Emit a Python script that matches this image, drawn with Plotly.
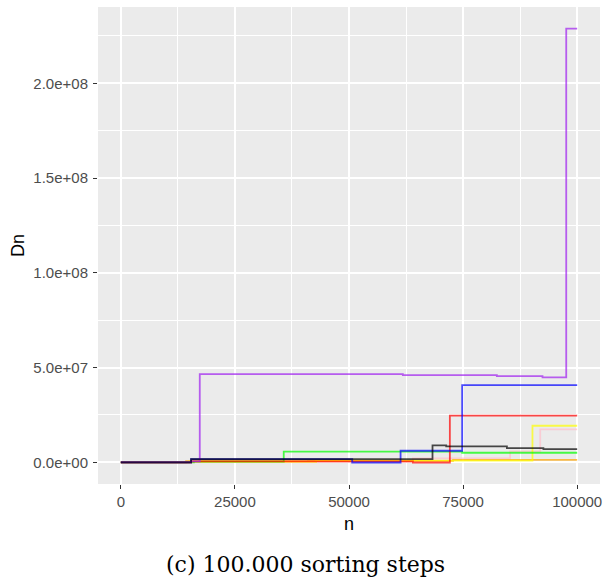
import plotly.graph_objects as go

# step series (x = n, y = Dn), drawn as horizontal-then-vertical steps
pink_x = [0, 15400, 61200, 64000, 85300, 91900, 100000]
pink_y = [0, 300000, 300000, 2100000, 5700000, 17400000, 17400000]

orange_x = [0, 14300, 41000, 72800, 100000]
orange_y = [0, 600000, 800000, 1300000, 1300000]

yellow_x = [0, 15000, 42800, 90200, 100000]
yellow_y = [0, 300000, 900000, 19300000, 19300000]

green_x = [0, 16000, 35700, 74800, 100000]
green_y = [0, 400000, 5600000, 5060000, 5060000]

red_x = [0, 15400, 64000, 72100, 100000]
red_y = [0, 500000, -100000, 24600000, 24600000]

blue_x = [0, 15400, 50700, 61300, 74800, 100000]
blue_y = [0, 1700000, -100000, 6100000, 40700000, 40700000]

purple_x = [0, 15400, 17300, 61800, 82400, 92400, 97600, 100000]
purple_y = [0, 500000, 46500000, 46000000, 45500000, 44800000, 228800000, 228800000]

black_x = [0, 15400, 68300, 71300, 84600, 92600, 100000]
black_y = [0, 1700000, 8960000, 8400000, 7500000, 7000000, 7000000]

series = [
    ("pink", "#FFC0CB", pink_x, pink_y),
    ("orange", "#FFA500", orange_x, orange_y),
    ("yellow", "#FFFF00", yellow_x, yellow_y),
    ("green", "#00FF00", green_x, green_y),
    ("red", "#FF0000", red_x, red_y),
    ("blue", "#0000FF", blue_x, blue_y),
    ("purple", "#A020F0", purple_x, purple_y),
    ("black", "#000000", black_x, black_y),
]

x_ticks = [0, 25000, 50000, 75000, 100000]
x_labels = ["0", "25000", "50000", "75000", "100000"]
y_ticks = [0, 5e7, 1e8, 1.5e8, 2e8]
y_labels = ["0.0e+00", "5.0e+07", "1.0e+08", "1.5e+08", "2.0e+08"]

fig = go.Figure()
for name, col, xs, ys in series:
    fig.add_trace(go.Scatter(x=xs, y=ys, mode="lines", name=name,
                             line=dict(color=col, width=1.8, shape="hv"),
                             opacity=0.7, showlegend=False, hoverinfo="skip"))

ymax = 228800000
tick_font = dict(family="Liberation Sans, Arial", size=15, color="#4D4D4D")
fig.update_layout(
    width=603, height=582,
    margin=dict(l=98, r=3, t=7, b=98, autoexpand=False),
    paper_bgcolor="white",
    plot_bgcolor="#EBEBEB",
    showlegend=False,
    xaxis=dict(range=[-5000, 105000], tickmode="array", tickvals=x_ticks, ticktext=x_labels,
               automargin=False,
               showgrid=True, gridcolor="white", gridwidth=1.6, zeroline=False,
               ticks="outside", ticklen=4, tickcolor="#333333", tickwidth=1,
               tickfont=tick_font,
               minor=dict(tickmode="array", tickvals=[12500, 37500, 62500, 87500],
                          showgrid=True, gridcolor="white", gridwidth=0.8, ticks=""),
               title=dict(text="n", font=dict(family="Liberation Sans, Arial", size=18, color="black"), standoff=8),
               showline=False),
    yaxis=dict(range=[-0.05 * ymax, 1.05 * ymax], tickmode="array", tickvals=y_ticks, ticktext=y_labels,
               automargin=False, ticklabelstandoff=2,
               showgrid=True, gridcolor="white", gridwidth=1.6, zeroline=False,
               ticks="outside", ticklen=4, tickcolor="#333333", tickwidth=1,
               tickfont=tick_font,
               minor=dict(tickmode="array", tickvals=[2.5e7, 7.5e7, 1.25e8, 1.75e8, 2.25e8],
                          showgrid=True, gridcolor="white", gridwidth=0.8, ticks=""),
               title=dict(text="Dn", font=dict(family="Liberation Sans, Arial", size=18, color="black"), standoff=4),
               showline=False),
    annotations=[dict(text="(c) 100.000 sorting steps", xref="paper", yref="paper",
                      x=(305 - 98) / (603 - 98 - 3), y=-(564 - 484) / (582 - 7 - 98),
                      xanchor="center", yanchor="middle", showarrow=False,
                      font=dict(family="DejaVu Serif", size=22, color="black"))],
)

fig.write_html("out.html", config={"displayModeBar": False},
               post_script="document.body.style.margin='0';document.body.style.padding='0';"
                           "document.body.style.overflow='hidden';")
